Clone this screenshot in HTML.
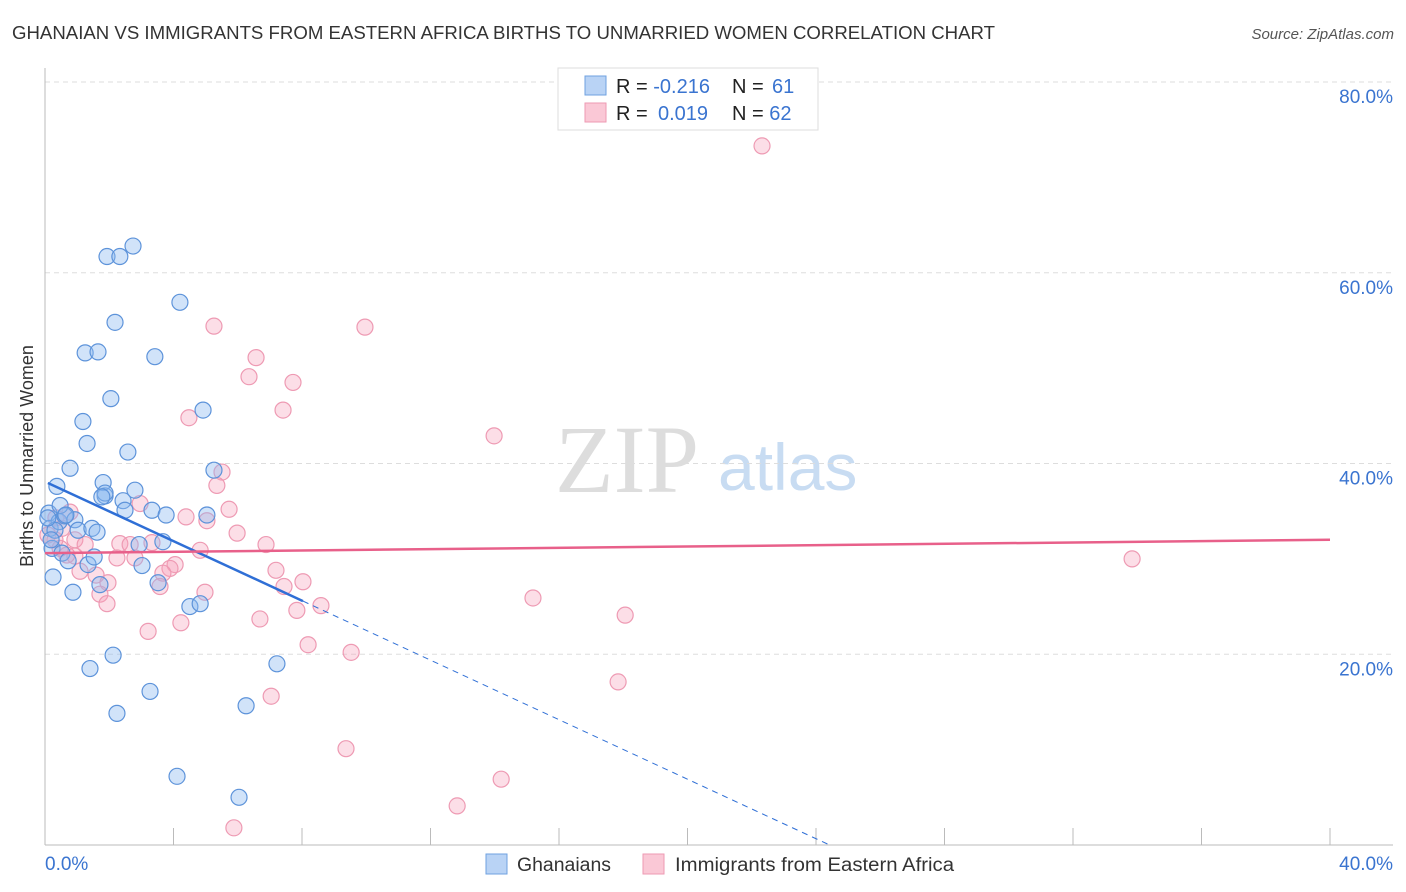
<!DOCTYPE html>
<html><head><meta charset="utf-8"><style>
body{margin:0;background:#fff;font-family:"Liberation Sans",sans-serif}
#c{position:absolute;left:0;top:0}
</style></head><body>
<svg id="c" width="1406" height="892" xmlns="http://www.w3.org/2000/svg">
<text x="12" y="39" font-size="18" fill="#333" textLength="983" lengthAdjust="spacingAndGlyphs">GHANAIAN VS IMMIGRANTS FROM EASTERN AFRICA BIRTHS TO UNMARRIED WOMEN CORRELATION CHART</text>
<text x="1394" y="39" font-size="15" fill="#555" font-style="italic" text-anchor="end">Source: ZipAtlas.com</text>
<text x="33" y="456" font-size="18" fill="#333" text-anchor="middle" transform="rotate(-90 33 456)">Births to Unmarried Women</text>
<text x="555" y="492" font-size="96" fill="#ddd" font-family="Liberation Serif,serif">ZIP</text>
<text x="718" y="490" font-size="66" fill="#c8dcf2">atlas</text>
<g id="grid"></g><g id="pts"></g><g id="trend"></g>
<g>
<rect x="558" y="68" width="260" height="62" fill="#fff" stroke="#ddd"/>
<rect x="585" y="76" width="21" height="19" fill="#b9d3f5" stroke="#6fa1e0"/>
<rect x="585" y="103" width="21" height="19" fill="#fac8d6" stroke="#ee9ab3"/>
<text x="616" y="93" font-size="20" fill="#222">R = <tspan fill="#3a74d0">-0.216</tspan><tspan x="732">N = </tspan><tspan fill="#3a74d0" x="772">61</tspan></text>
<text x="616" y="120" font-size="20" fill="#222">R = <tspan fill="#3a74d0" x="658">0.019</tspan><tspan x="732">N = </tspan><tspan fill="#3a74d0">62</tspan></text>
</g>
<g>
<rect x="486" y="854" width="21" height="20" fill="#b9d3f5" stroke="#6fa1e0"/>
<text x="517" y="871" font-size="19" fill="#333" textLength="94" lengthAdjust="spacingAndGlyphs">Ghanaians</text>
<rect x="643" y="854" width="21" height="20" fill="#fac8d6" stroke="#ee9ab3"/>
<text x="675" y="871" font-size="19" fill="#333" textLength="279" lengthAdjust="spacingAndGlyphs">Immigrants from Eastern Africa</text>
</g>
</svg>
<script>
const xTickLabels=["0.0%","40.0%"];
const yTicks=[20,40,60,80];
const blueX=[0.12,0.16,0.22,0.25,0.37,0.44,0.53,0.62,0.72,0.78,0.87,0.93,1.03,1.18,1.25,1.31,1.34,1.40,1.46,1.53,1.62,1.65,1.71,1.81,1.87,1.93,2.05,2.12,2.18,2.24,2.33,2.43,2.49,2.58,2.74,2.80,2.93,3.02,3.27,3.33,3.42,3.52,3.67,3.77,4.11,4.20,4.51,4.83,4.92,5.04,5.26,6.04,6.26,7.22,0.47,1.87,0.31,0.09,0.65,1.77,0.19];
const blueY=[34.8,33.2,31.1,28.1,37.6,33.9,30.6,34.5,29.8,39.5,26.5,34.1,33.0,44.4,51.6,42.1,29.4,18.5,33.2,30.2,32.8,51.7,27.3,38.0,36.6,61.7,46.8,19.9,54.8,13.8,61.7,36.1,35.1,41.2,62.8,37.2,31.5,29.3,16.1,35.1,51.2,27.5,31.8,34.6,7.2,56.9,25.0,25.3,45.6,34.6,39.3,5.0,14.6,19.0,35.6,36.9,33.0,34.3,34.6,36.5,32.0];
const pinkX=[22.32,33.84,9.96,5.26,6.57,6.35,7.72,7.41,4.48,13.98,5.51,5.35,2.96,5.73,4.39,5.04,5.98,6.88,0.34,0.53,0.78,0.93,0.47,0.09,2.33,2.65,3.33,2.80,2.24,0.93,4.83,4.05,3.89,1.59,1.09,1.96,3.67,3.58,4.98,7.19,7.44,8.03,1.71,1.93,7.84,8.59,15.19,18.06,4.23,3.21,6.69,8.19,9.53,17.84,7.04,9.37,14.20,12.83,5.88,1.25,0.31,0.68];
const pinkY=[73.3,30.0,54.3,54.4,51.1,49.1,48.5,45.6,44.8,42.9,39.1,37.7,35.8,35.2,34.4,34.0,32.7,31.5,34.3,33.2,34.9,32.0,31.1,32.5,31.6,31.5,31.7,30.1,30.1,30.3,30.9,29.4,29.0,28.3,28.7,27.5,28.5,27.1,26.5,28.8,27.1,27.6,26.3,25.3,24.6,25.1,25.9,24.1,23.3,22.4,23.7,21.0,20.2,17.1,15.6,10.1,6.9,4.1,1.8,31.5,32.0,30.4];
const blueTrend=[38.1,-1.56];
const pinkTrend=[30.6,0.035];
const NS="http://www.w3.org/2000/svg";
const sx=v=>45+v/40*1285, sy=v=>845-v/80*763;
function mk(t,a,p){const e=document.createElementNS(NS,t);for(const k in a)e.setAttribute(k,a[k]);p.appendChild(e);return e;}
const g=document.getElementById('grid');
yTicks.forEach(t=>{
 const l=mk('line',{x1:45,x2:1393,y1:sy(t),y2:sy(t),stroke:'#ddd','stroke-dasharray':'5,4'},g);
 
 
 const tx=mk('text',{x:1393,y:sy(t)+21,'font-size':19,fill:'#3a74d0','text-anchor':'end'},g);
 tx.textContent=t.toFixed(1)+'%';
 
 
});
mk('line',{x1:45,x2:45,y1:68,y2:845,stroke:'#bbb'},g);
mk('line',{x1:45,x2:1393,y1:845,y2:845,stroke:'#bbb'},g);
for(let i=0;i<=10;i++){const l=mk('line',{x1:sx(i*4),x2:sx(i*4),y1:828,y2:845,stroke:'#bbb'},g);
 
 }
[[0,45,'start'],[1,1393,'end']].forEach(([i,x,a])=>{const t=mk('text',{x:x,y:870,'font-size':19,fill:'#3a74d0','text-anchor':a},g);t.textContent=xTickLabels[i];
 
 });
const P=document.getElementById('pts');
pinkX.forEach((x,i)=>{const c=mk('circle',{cx:sx(x),cy:sy(pinkY[i]),r:8,fill:'rgba(245,160,185,0.35)',stroke:'#ee9ab3','stroke-width':1.2},P);
 
 });
blueX.forEach((x,i)=>{const c=mk('circle',{cx:sx(x),cy:sy(blueY[i]),r:8,fill:'rgba(140,185,240,0.4)',stroke:'#5d93da','stroke-width':1.2},P);
 
 });
const T=document.getElementById('trend');
const by=x=>blueTrend[0]+blueTrend[1]*x;
const bl=mk('line',{x1:sx(0.09),y1:sy(by(0.09)),x2:sx(8.03),y2:sy(by(8.03)),stroke:'#2f6fd6','stroke-width':2.5},T);


const x0=-blueTrend[0]/blueTrend[1];
const bd=mk('line',{x1:sx(8.03),y1:sy(by(8.03)),x2:sx(x0),y2:sy(0),stroke:'#2f6fd6','stroke-width':1,'stroke-dasharray':'6,5'},T);


const py=x=>pinkTrend[0]+pinkTrend[1]*x;
const pl=mk('line',{x1:sx(0),y1:sy(py(0)),x2:sx(40),y2:sy(py(40)),stroke:'#e8608a','stroke-width':2.5},T);


</script>
</body></html>
